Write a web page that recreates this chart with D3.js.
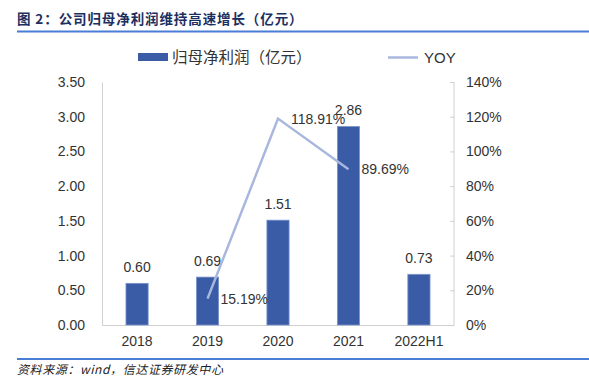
<!DOCTYPE html>
<html>
<head>
<meta charset="utf-8">
<script src="https://cdn.jsdelivr.net/npm/d3@7"></script>
<style>
  body { margin: 0; background: #fff; }
  text { font-family: "Liberation Sans", Arial, "Noto Sans CJK SC", sans-serif; }
  .cjk { font-family: "Noto Sans CJK SC", sans-serif; }
</style>
</head>
<body>
<svg id="chart" width="589" height="382"></svg>
<script>
// 数据
var categories = ["2018", "2019", "2020", "2021", "2022H1"];
var profit = [0.60, 0.69, 1.51, 2.86, 0.73];          // 归母净利润（亿元）
var yoy = [null, 15.19, 118.91, 89.69, null];          // YOY, %
var leftTicks = [0, 0.5, 1, 1.5, 2, 2.5, 3, 3.5];
var rightTicks = [0, 20, 40, 60, 80, 100, 120, 140];

var svg = d3.select("#chart");

var barColor = "#3a5ca7";
var lineColor = "#a8b7de";
var axisColor = "#d0d0d0";
var textColor = "#333";

var plot = { left: 102, right: 454, top: 82, bottom: 325 };

var x = d3.scaleBand()
    .domain(categories)
    .range([plot.left, plot.right])
    .paddingInner(0.685)
    .paddingOuter(0.34);

var y = d3.scaleLinear().domain([0, 3.5]).range([plot.bottom, plot.top]);
var y2 = d3.scaleLinear().domain([0, 140]).range([plot.bottom, plot.top]);

// 标题
svg.append("text")
    .attr("class", "cjk")
    .attr("x", 17)
    .attr("y", 24)
    .attr("font-size", 13.5)
    .attr("letter-spacing", 0.9)
    .attr("font-weight", "bold")
    .attr("fill", "#1c2f5f")
    .text("图 2：公司归母净利润维持高速增长（亿元）");

svg.append("line")
    .attr("x1", 17).attr("x2", 589)
    .attr("y1", 31.5).attr("y2", 31.5)
    .attr("stroke", "#4a7ed6")
    .attr("stroke-width", 2);

// 图例
svg.append("rect")
    .attr("x", 138).attr("y", 53)
    .attr("width", 30).attr("height", 8)
    .attr("fill", barColor);
svg.append("text")
    .attr("class", "cjk")
    .attr("x", 172).attr("y", 63)
    .attr("font-size", 15.5)
    .attr("fill", textColor)
    .text("归母净利润（亿元）");

svg.append("line")
    .attr("x1", 388).attr("x2", 418)
    .attr("y1", 57.5).attr("y2", 57.5)
    .attr("stroke", lineColor)
    .attr("stroke-width", 2.5);
svg.append("text")
    .attr("x", 424).attr("y", 63)
    .attr("font-size", 15)
    .attr("fill", textColor)
    .text("YOY");

// 左轴
var leftAxis = svg.append("g")
    .attr("transform", "translate(" + plot.left + ",0)")
    .call(d3.axisLeft(y).tickValues(leftTicks).tickSize(0).tickPadding(17)
        .tickFormat(d3.format(".2f")));
leftAxis.select(".domain").attr("stroke", axisColor);
leftAxis.selectAll("text")
    .attr("font-size", 14)
    .attr("fill", textColor)
    .attr("font-family", "Liberation Sans, Arial, sans-serif");

// 右轴
var rightAxis = svg.append("g")
    .attr("transform", "translate(" + plot.right + ",0)")
    .call(d3.axisRight(y2).tickValues(rightTicks).tickSize(-4).tickPadding(12)
        .tickFormat(function(d){ return d + "%"; }));
rightAxis.select(".domain").attr("stroke", axisColor).attr("d", "M0," + plot.top + "V" + plot.bottom);
rightAxis.selectAll(".tick line").attr("stroke", axisColor);
rightAxis.selectAll("text")
    .attr("font-size", 14)
    .attr("fill", textColor)
    .attr("font-family", "Liberation Sans, Arial, sans-serif");

// X轴
var xAxis = svg.append("g")
    .attr("transform", "translate(0," + plot.bottom + ")")
    .call(d3.axisBottom(x).tickSize(0).tickPadding(11));
xAxis.select(".domain").attr("stroke", axisColor);
xAxis.selectAll("text")
    .attr("font-size", 14)
    .attr("fill", textColor)
    .attr("font-family", "Liberation Sans, Arial, sans-serif");

// 柱
svg.append("g").selectAll("rect")
    .data(profit)
    .enter().append("rect")
    .attr("x", function(d, i){ return x(categories[i]); })
    .attr("y", function(d){ return y(d); })
    .attr("width", x.bandwidth())
    .attr("height", function(d){ return y(0) - y(d); })
    .attr("fill", barColor)
    .attr("stroke", "#7d95cc")
    .attr("stroke-width", 0.8);

svg.append("g").selectAll("text")
    .data(profit)
    .enter().append("text")
    .attr("x", function(d, i){ return x(categories[i]) + x.bandwidth() / 2; })
    .attr("y", function(d){ return y(d) - 11; })
    .attr("text-anchor", "middle")
    .attr("font-size", 14)
    .attr("fill", textColor)
    .text(function(d){ return d.toFixed(2); });

// YOY 折线
var pts = [];
yoy.forEach(function(v, i){
    if(v !== null) pts.push({ cat: categories[i], v: v });
});

var line = d3.line()
    .x(function(d){ return x(d.cat) + x.bandwidth() / 2; })
    .y(function(d){ return y2(d.v); });

svg.append("path")
    .datum(pts)
    .attr("d", line)
    .attr("fill", "none")
    .attr("stroke", lineColor)
    .attr("stroke-width", 2.5);

svg.append("g").selectAll("text")
    .data(pts)
    .enter().append("text")
    .attr("x", function(d){ return x(d.cat) + x.bandwidth() / 2 + 13; })
    .attr("y", function(d){ return y2(d.v) + 5; })
    .attr("font-size", 14)
    .attr("fill", textColor)
    .text(function(d){ return d.v.toFixed(2) + "%"; });

// 底部
svg.append("line")
    .attr("x1", 17).attr("x2", 589)
    .attr("y1", 359).attr("y2", 359)
    .attr("stroke", "#4a7ed6")
    .attr("stroke-width", 2);

svg.append("text")
    .attr("class", "cjk")
    .attr("x", 17).attr("y", 374)
    .attr("font-size", 12)
    .attr("letter-spacing", 0.6)
    .attr("font-style", "italic")
    .attr("fill", "#222")
    .text("资料来源：wind，信达证券研发中心");
</script>
</body>
</html>
